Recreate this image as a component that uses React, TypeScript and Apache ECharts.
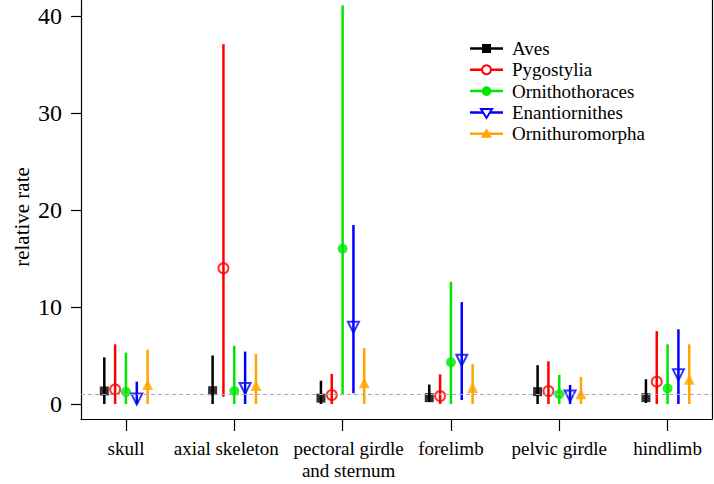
import React, { useEffect, useRef } from "react";
import * as echarts from "echarts";

const categories = ["skull", "axial skeleton", "pectoral girdle\nand sternum", "forelimb", "pelvic girdle", "hindlimb"];
const yTicks = [0, 10, 20, 30, 40];

const avesEst = [1.34, 1.37, 0.6, 0.65, 1.27, 0.65];
const avesLo = [0, 0, 0, 0.2, 0, 0.1];
const avesHi = [4.8, 5.0, 2.4, 2.0, 4.0, 2.55];

const pygEst = [1.5, 14.0, 0.93, 0.82, 1.34, 2.3];
const pygLo = [0, 0.75, 0, 0, 0, 0];
const pygHi = [6.15, 37.1, 3.1, 3.05, 4.4, 7.5];

const ornEst = [1.24, 1.34, 16.0, 4.3, 1.0, 1.6];
const ornLo = [0, 0, 0.93, 0, 0, 0];
const ornHi = [5.3, 6.0, 41.1, 12.6, 3.0, 6.15];

const enaEst = [0.5, 1.6, 7.9, 4.5, 0.82, 3.0];
const enaLo = [0, 0, 1.1, 0.4, 0, 0];
const enaHi = [2.3, 5.4, 18.45, 10.5, 1.96, 7.7];

const ornuEst = [2.0, 1.9, 2.2, 1.7, 1.06, 2.55];
const ornuLo = [0, 0, 0, 0, 0, 0];
const ornuHi = [5.6, 5.15, 5.75, 4.1, 2.8, 6.15];

const groups = [
  { name: "Aves", color: "#000000", est: avesEst, lo: avesLo, hi: avesHi, off: -0.2 },
  { name: "Pygostylia", color: "#FF0000", est: pygEst, lo: pygLo, hi: pygHi, off: -0.1 },
  { name: "Ornithothoraces", color: "#00E600", est: ornEst, lo: ornLo, hi: ornHi, off: 0 },
  { name: "Enantiornithes", color: "#0000FF", est: enaEst, lo: enaLo, hi: enaHi, off: 0.1 },
  { name: "Ornithuromorpha", color: "#FFA500", est: ornuEst, lo: ornuLo, hi: ornuHi, off: 0.2 },
];

const FONT = "'Liberation Serif', 'Times New Roman', serif";

function pointStyle(i: number, color: string) {
  if (i === 0) return { symbol: "rect", symbolSize: 9, symbolRotate: 0, itemStyle: { color } };
  if (i === 1)
    return { symbol: "circle", symbolSize: 10, symbolRotate: 0, itemStyle: { color: "rgba(0,0,0,0)", borderColor: color, borderWidth: 2 } };
  if (i === 2) return { symbol: "circle", symbolSize: 10, symbolRotate: 0, itemStyle: { color } };
  if (i === 3)
    return { symbol: "triangle", symbolSize: 11, symbolRotate: 180, itemStyle: { color: "rgba(0,0,0,0)", borderColor: color, borderWidth: 2 } };
  return { symbol: "triangle", symbolSize: 11, symbolRotate: 0, itemStyle: { color } };
}

function legendMarker(i: number, color: string, cx: number, cy: number): any {
  if (i === 0) return { type: "rect", shape: { x: cx - 4.5, y: cy - 4.5, width: 9, height: 9 }, style: { fill: color } };
  if (i === 1) return { type: "circle", shape: { cx, cy, r: 4.5 }, style: { fill: "#fff", stroke: color, lineWidth: 2 } };
  if (i === 2) return { type: "circle", shape: { cx, cy, r: 4.8 }, style: { fill: color } };
  if (i === 3)
    return {
      type: "polygon",
      shape: { points: [[cx - 5.5, cy - 3.5], [cx + 5.5, cy - 3.5], [cx, cy + 5.5]] },
      style: { fill: "#fff", stroke: color, lineWidth: 2 },
    };
  return { type: "polygon", shape: { points: [[cx - 5.5, cy + 4], [cx + 5.5, cy + 4], [cx, cy - 5.5]] }, style: { fill: color } };
}

function xLabel(v: number): string {
  const i = Math.round(v) - 1;
  const c = categories[i] ?? "";
  if (i === 1) return `{ax|${c}}`;
  if (i === 2) return c.split("\n").map((s) => `{pc|${s}}`).join("\n");
  return c;
}

export default function App() {
  const ref = useRef<HTMLDivElement>(null);
  useEffect(() => {
    if (!ref.current) return;
    const chart = echarts.init(ref.current, undefined, { renderer: "svg" });
    const series: any[] = [];
    groups.forEach((g) => {
      series.push({
        type: "custom",
        name: g.name + " range",
        data: categories.map((_, i) => [i + 1 + g.off, g.lo[i], g.hi[i]]),
        encode: { x: 0, y: [1, 2] },
        renderItem: (params: any, api: any) => {
          const x = api.value(0);
          const p1 = api.coord([x, api.value(1)]);
          const p2 = api.coord([x, api.value(2)]);
          return {
            type: "line",
            shape: { x1: p1[0], y1: p1[1], x2: p2[0], y2: p2[1] },
            style: { stroke: g.color, lineWidth: 2.5 },
          };
        },
        z: 2,
        silent: true,
      });
    });
    groups.forEach((g, gi) => {
      const ps = pointStyle(gi, g.color);
      series.push({
        type: "scatter",
        name: g.name,
        data: categories.map((_, i) => [i + 1 + g.off, g.est[i]]),
        ...ps,
        z: 3,
        silent: true,
      });
    });
    series.push({
      type: "line",
      data: [],
      markLine: {
        silent: true,
        symbol: "none",
        label: { show: false },
        lineStyle: { color: "#aaaaaa", type: [4, 3], width: 1 },
        data: [{ yAxis: 1 }],
      },
    });

    const legendEls: any[] = [];
    const rowY = [48.5, 69.8, 91.1, 112.4, 133.7];
    groups.forEach((g, gi) => {
      legendEls.push({
        type: "line",
        shape: { x1: 470, y1: rowY[gi], x2: 503, y2: rowY[gi] },
        style: { stroke: g.color, lineWidth: 2.5 },
      });
      legendEls.push(legendMarker(gi, g.color, 486.5, rowY[gi]));
      legendEls.push({
        type: "text",
        x: 512,
        y: rowY[gi],
        style: { text: g.name, font: `19px ${FONT}`, fill: "#000", verticalAlign: "middle", align: "left" },
      });
    });
    legendEls.push({
      type: "text",
      x: 22,
      y: 217,
      rotation: Math.PI / 2,
      style: { text: "relative rate", font: `21px ${FONT}`, fill: "#000", align: "center", verticalAlign: "middle" },
    });

    chart.setOption({
      animation: false,
      grid: { left: 81, right: 2, top: 0, bottom: 65, containLabel: false },
      xAxis: {
        type: "value",
        min: 0.585,
        max: 6.41,
        splitLine: { show: false },
        axisLine: { show: true, onZero: false, lineStyle: { color: "#000", width: 1.2 } },
        axisTick: { show: true, length: 12, lineStyle: { color: "#000", width: 1.2 }, customValues: [1, 2, 3, 4, 5, 6] },
        axisLabel: {
          show: true,
          customValues: [1, 2, 3, 4, 5, 6],
          formatter: xLabel,
          fontFamily: FONT,
          fontSize: 19,
          lineHeight: 22,
          color: "#000",
          margin: 18,
          rich: {
            ax: { fontFamily: FONT, fontSize: 19, lineHeight: 22, color: "#000", padding: [0, 16, 0, 0] },
            pc: { fontFamily: FONT, fontSize: 19, lineHeight: 22, color: "#000", padding: [0, 0, 0, 12] },
          },
        },
      },
      yAxis: [
        {
          type: "value",
          min: -1.55,
          max: 41.65,
          splitLine: { show: false },
          axisLine: { show: true, onZero: false, lineStyle: { color: "#000", width: 1.2 } },
          axisTick: { show: true, length: 10, lineStyle: { color: "#000", width: 1.2 }, customValues: yTicks },
          axisLabel: { show: true, customValues: yTicks, fontFamily: FONT, fontSize: 24, color: "#000", margin: 19 },
        },
        {
          type: "value",
          position: "right",
          min: -1.55,
          max: 41.65,
          splitLine: { show: false },
          axisLine: { show: true, onZero: false, lineStyle: { color: "#000", width: 1.2 } },
          axisTick: { show: false },
          axisLabel: { show: false },
        },
      ],
      graphic: legendEls,
      series,
    });
    return () => chart.dispose();
  }, []);
  return <div ref={ref} style={{ width: 714, height: 484, position: "absolute", left: 0, top: 0 }} />;
}
